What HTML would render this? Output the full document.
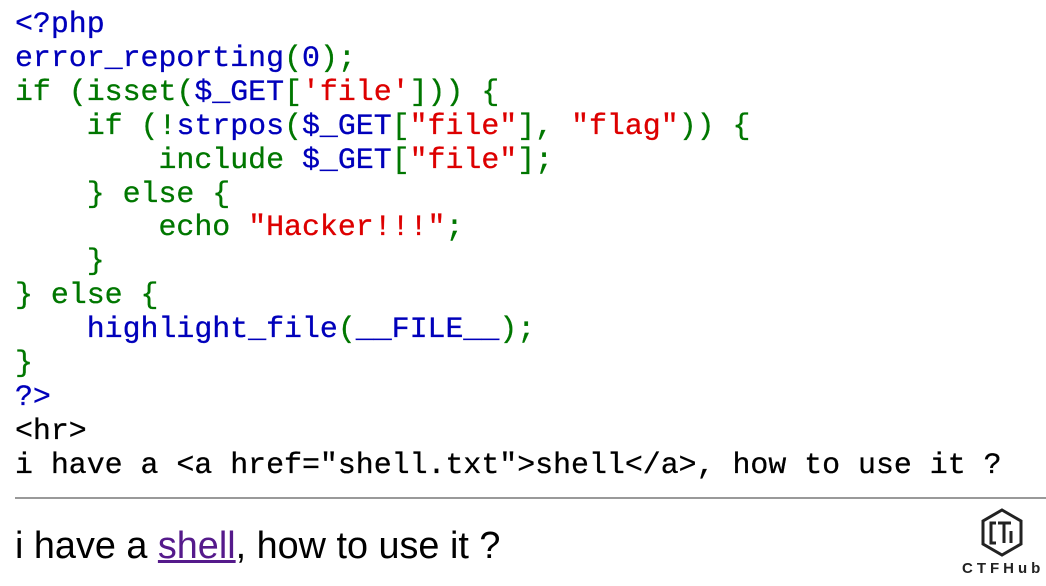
<!DOCTYPE html>
<html><head><meta charset="utf-8"><style>
html,body{margin:0;padding:0;background:#fff;width:1046px;height:586px;overflow:hidden;position:relative}
pre{position:absolute;left:15px;top:8px;margin:0;font-family:"Liberation Mono",monospace;font-size:29.9px;line-height:33.9px;color:#000;-webkit-text-stroke:0.3px}
.b{color:#0000BB}.g{color:#007700}.r{color:#DD0000}
hr{position:absolute;left:15px;top:497px;width:1031px;margin:0;border:0;border-top:2px solid #999}
.t{position:absolute;left:15px;top:525px;font-family:"Liberation Sans",sans-serif;font-size:37.8px;line-height:42px;color:#000}
.t a{color:#551A8B;text-decoration:underline}
.logo{position:absolute;left:976px;top:506px}
.lt{position:absolute;left:962px;top:560px;width:78px;text-align:center;font-family:"Liberation Sans",sans-serif;font-size:15px;font-weight:bold;letter-spacing:4px;color:#222}
</style></head><body>
<pre><span class="b">&lt;?php
error_reporting</span><span class="g">(</span><span class="b">0</span><span class="g">);
if (</span><span class="b"></span><span class="g">isset(</span><span class="b">$_GET</span><span class="g">[</span><span class="r">'file'</span><span class="g">])) {
    if (!</span><span class="b">strpos</span><span class="g">(</span><span class="b">$_GET</span><span class="g">[</span><span class="r">"file"</span><span class="g">], </span><span class="r">"flag"</span><span class="g">)) {
        include </span><span class="b">$_GET</span><span class="g">[</span><span class="r">"file"</span><span class="g">];
    } else {
        echo </span><span class="r">"Hacker!!!"</span><span class="g">;
    }
} else {
    </span><span class="b">highlight_file</span><span class="g">(</span><span class="b">__FILE__</span><span class="g">);
}
</span><span class="b">?&gt;</span>
&lt;hr&gt;
i have a &lt;a href="shell.txt"&gt;shell&lt;/a&gt;, how to use it ?</pre>
<hr>
<div class="t">i have a <a>shell</a>, how to use it ?</div>
<svg class="logo" width="52" height="54" viewBox="0 0 52 54"><polygon points="26,4 45,15 45,38 26,49 7,38 7,15" fill="none" stroke="#222" stroke-width="3"/><path d="M20 17h-5v20h5M22 17h13M28 17v20M35 25v12" fill="none" stroke="#222" stroke-width="3"/></svg>
<div class="lt">CTFHub</div>
</body></html>
